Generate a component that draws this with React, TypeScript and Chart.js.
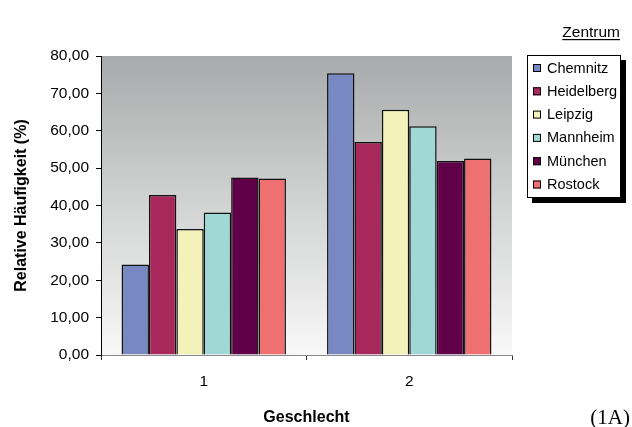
import React, { useEffect, useRef } from "react";
import { Chart, registerables } from "chart.js";

Chart.register(...registerables);

const categories = ["1", "2"];
const seriesNames = ["Chemnitz", "Heidelberg", "Leipzig", "Mannheim", "München", "Rostock"];
const chemnitz = [24.2, 75.4];
const heidelberg = [42.8, 57.0];
const leipzig = [33.7, 65.6];
const mannheim = [38.1, 61.2];
const muenchen = [47.5, 51.9];
const rostock = [47.2, 52.6];
const seriesColors = ["#7888C2", "#A8285C", "#F2F2BA", "#A0D8D6", "#600048", "#EE7070"];
const yTicks = [0, 10, 20, 30, 40, 50, 60, 70, 80];

const FONT = '"Liberation Sans", Arial, sans-serif';

const bgPlugin = {
  id: "bgGradient",
  beforeDraw(chart: any) {
    const { ctx, chartArea } = chart;
    if (!chartArea) return;
    const g = ctx.createLinearGradient(0, chartArea.top, 0, chartArea.bottom);
    g.addColorStop(0, "#A8ABAB");
    g.addColorStop(0.5, "#D2D3D3");
    g.addColorStop(1, "#F8F8F8");
    ctx.save();
    ctx.fillStyle = g;
    ctx.fillRect(chartArea.left, chartArea.top, chartArea.right - chartArea.left, chartArea.bottom - chartArea.top);
    ctx.restore();
  },
};

const legendPlugin = {
  id: "boxLegend",
  afterDraw(chart: any) {
    const ctx = chart.ctx;
    ctx.save();
    // title "Zentrum"
    ctx.font = "15.5px " + FONT;
    ctx.fillStyle = "#000";
    ctx.textBaseline = "alphabetic";
    ctx.textAlign = "right";
    const tr = 620;
    const ty = 37;
    ctx.fillText("Zentrum", tr, ty);
    const tw = ctx.measureText("Zentrum").width;
    ctx.fillRect(tr - tw, ty + 2, tw, 1.2);

    const bx = 527, by = 55, bw = 93, bh = 142;
    ctx.fillStyle = "#000";
    ctx.fillRect(bx + 5, by + 5, bw + 1, bh + 1);
    ctx.fillStyle = "#fff";
    ctx.fillRect(bx, by, bw, bh);
    ctx.strokeStyle = "#000";
    ctx.lineWidth = 1;
    ctx.strokeRect(bx + 0.5, by + 0.5, bw, bh);

    ctx.textAlign = "left";
    ctx.textBaseline = "middle";
    chart.data.datasets.forEach((ds: any, i: number) => {
      const cy = 68 + i * 23.3;
      ctx.fillStyle = ds.backgroundColor;
      ctx.fillRect(533, cy - 4, 8, 8);
      ctx.strokeStyle = "#000";
      ctx.strokeRect(533.5, cy - 3.5, 7, 7);
      ctx.fillStyle = "#000";
      ctx.font = "14.5px " + FONT;
      ctx.fillText(ds.label, 547, cy + 0.5);
    });

    ctx.font = "21px \"Liberation Serif\", \"Times New Roman\", serif";
    ctx.textAlign = "right";
    ctx.textBaseline = "alphabetic";
    ctx.fillText("(1A)", 630, 424);
    ctx.restore();
  },
};

export default function App() {
  const ref = useRef<HTMLCanvasElement>(null);
  useEffect(() => {
    if (!ref.current) return;
    const values = [chemnitz, heidelberg, leipzig, mannheim, muenchen, rostock];
    const chart = new Chart(ref.current, {
      type: "bar",
      data: {
        labels: categories,
        datasets: seriesNames.map((name, i) => ({
          label: name,
          data: values[i],
          backgroundColor: seriesColors[i],
          borderColor: "#111",
          borderWidth: 1.5,
          categoryPercentage: 0.8,
          barPercentage: 1.0,
        })),
      },
      options: {
        animation: false,
        responsive: false,
        maintainAspectRatio: false,
        layout: { padding: { left: 12, right: 120, top: 56, bottom: 0 } },
        plugins: { legend: { display: false }, tooltip: { enabled: false } },
        scales: {
          x: {
            grid: { drawOnChartArea: false, drawTicks: true, tickLength: 5, color: "#333", offset: true },
            border: { display: true, color: "#888", width: 1 },
            ticks: { color: "#000", font: { family: FONT, size: 15.5 }, padding: 12 },
            title: {
              display: true,
              text: "Geschlecht",
              color: "#000",
              font: { family: FONT, size: 16, weight: "bold" },
              padding: { top: 0, bottom: 0 },
            },
            afterFit: (s: any) => { s.height = 72; },
          },
          y: {
            min: 0,
            max: 80,
            afterBuildTicks: (s: any) => { s.ticks = yTicks.map((v) => ({ value: v })); },
            grid: { drawOnChartArea: false, drawTicks: true, tickLength: 5, color: "#000" },
            border: { display: true, color: "#000", width: 1 },
            ticks: {
              color: "#000",
              font: { family: FONT, size: 15.5 },
              padding: 7,
              callback: (v: any) => Number(v).toFixed(2).replace(".", ","),
            },
            title: {
              display: true,
              text: "Relative Häufigkeit (%)",
              color: "#000",
              font: { family: FONT, size: 16, weight: "bold" },
              padding: { top: 0, bottom: 0 },
            },
            afterFit: (s: any) => { s.width = 89; },
          },
        },
      },
      plugins: [bgPlugin, legendPlugin],
    });
    return () => chart.destroy();
  }, []);
  return (
    <div style={{ position: "fixed", left: 0, top: 0, width: 632, height: 427, background: "#fff" }}>
      <canvas ref={ref} width={632} height={427} style={{ display: "block", width: 632, height: 427 }} />
    </div>
  );
}
